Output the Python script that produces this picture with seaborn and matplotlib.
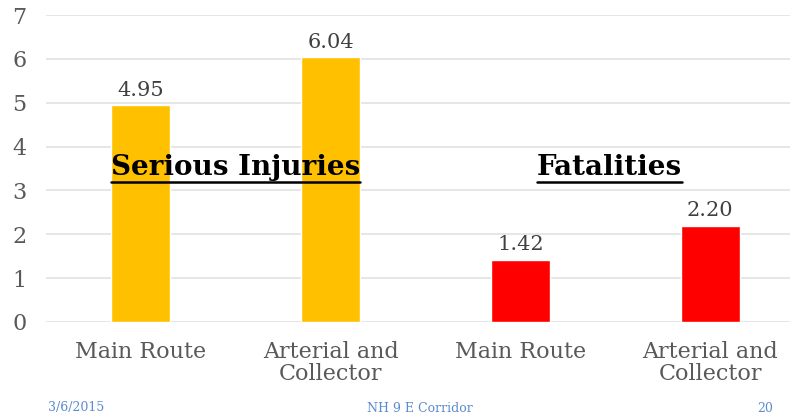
import pandas as pd
import numpy as np
import seaborn as sns
import matplotlib.pyplot as plt
from matplotlib.lines import Line2D

# Chart data
categories = ["Main Route", "Arterial and\nCollector", "Main Route", "Arterial and\nCollector"]
groups = ["Serious Injuries", "Serious Injuries", "Fatalities", "Fatalities"]
values = [4.95, 6.04, 1.42, 2.20]
group_colors = {"Serious Injuries": "#FFC000", "Fatalities": "#FF0000"}
y_ticks = [0, 1, 2, 3, 4, 5, 6, 7]
footer_left = "3/6/2015"
footer_mid = "NH 9 E Corridor"
footer_right = "20"

df = pd.DataFrame({
    "slot": [str(i) for i in range(len(values))],
    "category": categories,
    "group": groups,
    "value": values,
})

sns.set_theme(style="white")
plt.rcParams["font.family"] = ["DejaVu Serif"]

fig = plt.figure(figsize=(7.9, 4.16), dpi=100)
ax = fig.add_axes([46 / 790, (416 - 322) / 416, 1 - 46 / 790, (322 - 15) / 416])

sns.barplot(data=df, x="slot", y="value", hue="group", palette=group_colors,
            dodge=False, width=0.31, saturation=1, legend=False, ax=ax, zorder=3)

ax.set_ylim(0, 7)
ax.set_xlim(-0.5, 3.42)
ax.set_yticks(y_ticks)
ax.set_yticklabels([str(t) for t in y_ticks], fontsize=16, color="#595959")
ax.set_xticks(range(len(categories)))
ax.set_xticklabels(categories, fontsize=16, color="#595959", linespacing=1.0)
ax.tick_params(axis="both", length=0)
ax.tick_params(axis="x", pad=14)
ax.tick_params(axis="y", pad=14)
ax.set_xlabel("")
ax.set_ylabel("")
ax.yaxis.grid(True, color="#e2e2e2", linewidth=1.2, zorder=0)
for s in ax.spines.values():
    s.set_visible(False)

# value labels
for i, v in enumerate(values):
    ax.text(i, v + 0.12, f"{v:.2f}", ha="center", va="bottom", fontsize=15, color="#404040")

# group titles (underlined)
titles = []
for name, xpos in [("Serious Injuries", 0.5), ("Fatalities", 2.47)]:
    t = ax.text(xpos, 3.35, name, ha="center", va="baseline", fontsize=20,
                fontweight="bold", color="black", zorder=5)
    titles.append(t)

fig.canvas.draw()
renderer = fig.canvas.get_renderer()
for t in titles:
    bb = t.get_window_extent(renderer).transformed(fig.transFigure.inverted())
    yline = bb.y0 - 1 / 416
    fig.add_artist(Line2D([bb.x0, bb.x1], [yline, yline], color="black", linewidth=1.8))

# footer
fig.text(48 / 790, 8 / 416, footer_left, fontsize=9, color="#5B8BD0", ha="left", va="center")
fig.text(420 / 790, 8 / 416, footer_mid, fontsize=9, color="#5B8BD0", ha="center", va="center")
fig.text(765 / 790, 8 / 416, footer_right, fontsize=9, color="#5B8BD0", ha="center", va="center")

fig.savefig("out.png", dpi=100)
